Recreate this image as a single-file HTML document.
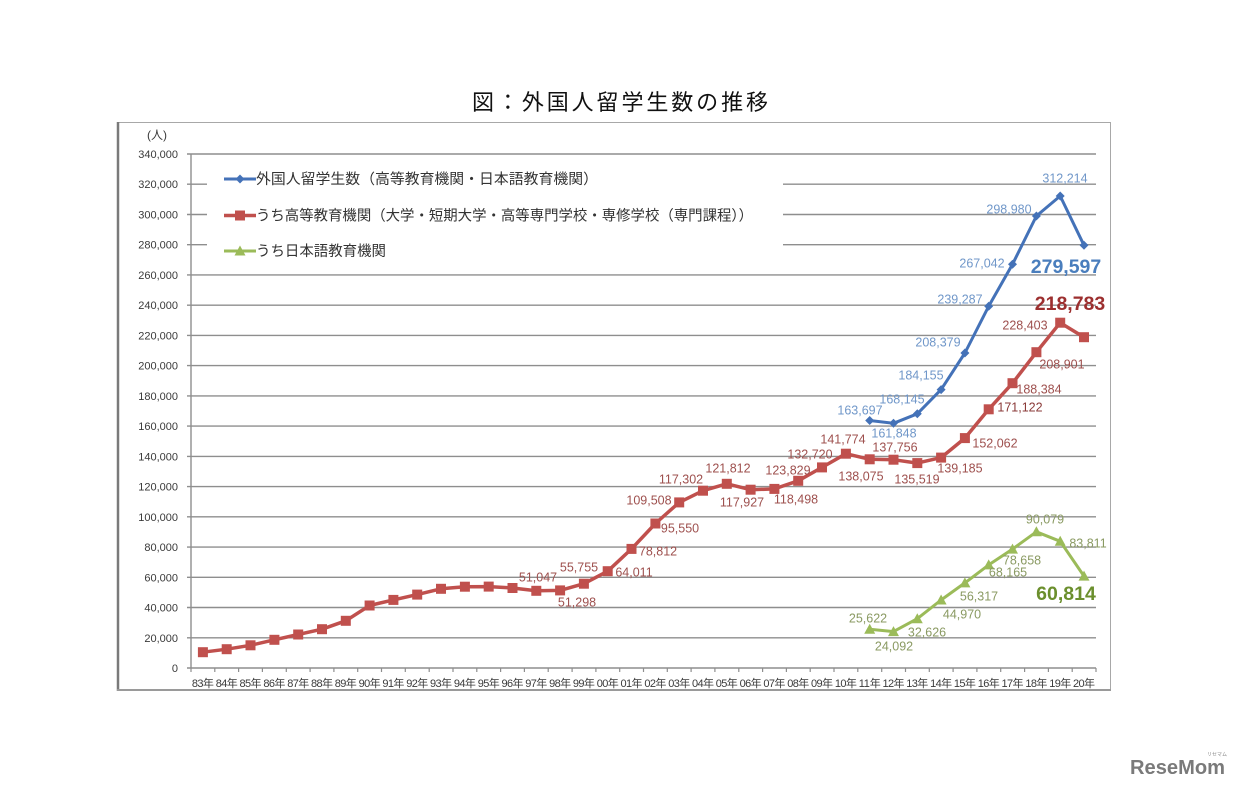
<!DOCTYPE html>
<html>
<head>
<meta charset="utf-8">
<style>
html,body{margin:0;padding:0;background:#fff;}
svg{display:block;}
text{font-family:"Liberation Sans","Noto Sans CJK JP",sans-serif;}
.yl{font-size:11px;fill:#3a3a3a;text-anchor:end;}
.xl{font-size:11px;fill:#3a3a3a;text-anchor:middle;}
.lg{font-size:14.5px;fill:#333;}
.bl{font-size:12.5px;fill:#7097c9;text-anchor:middle;}
.rl{font-size:12.5px;fill:#9e504e;text-anchor:middle;}
.gl{font-size:12.5px;fill:#8a9a62;text-anchor:middle;}
.big{font-size:19.5px;font-weight:bold;text-anchor:middle;}
</style>
</head>
<body>
<svg width="1240" height="788" viewBox="0 0 1240 788" xmlns="http://www.w3.org/2000/svg">
<defs>
  <marker id="mSq" markerUnits="userSpaceOnUse" markerWidth="12" markerHeight="12" refX="6" refY="6" viewBox="0 0 12 12">
    <rect x="1" y="1" width="10" height="10" fill="#c0504d"/>
  </marker>
  <marker id="mDi" markerUnits="userSpaceOnUse" markerWidth="12" markerHeight="12" refX="6" refY="6" viewBox="0 0 12 12">
    <path d="M6 1.5 L10.5 6 L6 10.5 L1.5 6 Z" fill="#4472b8"/>
  </marker>
  <marker id="mTr" markerUnits="userSpaceOnUse" markerWidth="14" markerHeight="14" refX="7" refY="7" viewBox="0 0 14 14">
    <path d="M7 1.5 L12.5 11.5 L1.5 11.5 Z" fill="#9bbb59"/>
  </marker>
</defs>

<!-- title -->
<text x="472" y="110" style="font-size:22px;fill:#111;" textLength="296" lengthAdjust="spacing">図：外国人留学生数の推移</text>

<!-- outer frame -->
<rect x="118.5" y="122.5" width="992" height="567" fill="#fff" stroke="#a8a8a8" stroke-width="1"/>
<line x1="118" y1="122" x2="118" y2="691" stroke="#7a7a7a" stroke-width="2.5"/>
<line x1="117" y1="690" x2="1111" y2="690" stroke="#9a9a9a" stroke-width="2"/>

<!-- gridlines -->
<g stroke="#8e8e8e" stroke-width="1.4">
  <line x1="187" y1="637.8" x2="1096" y2="637.8"/>
  <line x1="187" y1="607.5" x2="1096" y2="607.5"/>
  <line x1="187" y1="577.3" x2="1096" y2="577.3"/>
  <line x1="187" y1="547.1" x2="1096" y2="547.1"/>
  <line x1="187" y1="516.8" x2="1096" y2="516.8"/>
  <line x1="187" y1="486.6" x2="1096" y2="486.6"/>
  <line x1="187" y1="456.4" x2="1096" y2="456.4"/>
  <line x1="187" y1="426.1" x2="1096" y2="426.1"/>
  <line x1="187" y1="395.9" x2="1096" y2="395.9"/>
  <line x1="187" y1="365.6" x2="1096" y2="365.6"/>
  <line x1="187" y1="335.4" x2="1096" y2="335.4"/>
  <line x1="187" y1="305.2" x2="1096" y2="305.2"/>
  <line x1="187" y1="274.9" x2="1096" y2="274.9"/>
  <line x1="187" y1="244.7" x2="207" y2="244.7"/>
  <line x1="783" y1="244.7" x2="1096" y2="244.7"/>
  <line x1="187" y1="214.5" x2="207" y2="214.5"/>
  <line x1="783" y1="214.5" x2="1096" y2="214.5"/>
  <line x1="187" y1="184.2" x2="207" y2="184.2"/>
  <line x1="783" y1="184.2" x2="1096" y2="184.2"/>
  <line x1="187" y1="154" x2="1096" y2="154"/>
  <!-- axes -->
  <line x1="191" y1="154" x2="191" y2="668"/>
  <line x1="187" y1="668" x2="1096" y2="668"/>
</g>
<!-- x ticks -->
<g stroke="#8e8e8e" stroke-width="1.2">
<line x1="191.0" y1="668" x2="191.0" y2="672"/><line x1="214.8" y1="668" x2="214.8" y2="672"/><line x1="238.6" y1="668" x2="238.6" y2="672"/><line x1="262.4" y1="668" x2="262.4" y2="672"/><line x1="286.3" y1="668" x2="286.3" y2="672"/><line x1="310.1" y1="668" x2="310.1" y2="672"/><line x1="333.9" y1="668" x2="333.9" y2="672"/><line x1="357.7" y1="668" x2="357.7" y2="672"/><line x1="381.5" y1="668" x2="381.5" y2="672"/><line x1="405.3" y1="668" x2="405.3" y2="672"/><line x1="429.2" y1="668" x2="429.2" y2="672"/><line x1="453.0" y1="668" x2="453.0" y2="672"/><line x1="476.8" y1="668" x2="476.8" y2="672"/><line x1="500.6" y1="668" x2="500.6" y2="672"/><line x1="524.4" y1="668" x2="524.4" y2="672"/><line x1="548.2" y1="668" x2="548.2" y2="672"/><line x1="572.1" y1="668" x2="572.1" y2="672"/><line x1="595.9" y1="668" x2="595.9" y2="672"/><line x1="619.7" y1="668" x2="619.7" y2="672"/><line x1="643.5" y1="668" x2="643.5" y2="672"/><line x1="667.3" y1="668" x2="667.3" y2="672"/><line x1="691.1" y1="668" x2="691.1" y2="672"/><line x1="714.9" y1="668" x2="714.9" y2="672"/><line x1="738.8" y1="668" x2="738.8" y2="672"/><line x1="762.6" y1="668" x2="762.6" y2="672"/><line x1="786.4" y1="668" x2="786.4" y2="672"/><line x1="810.2" y1="668" x2="810.2" y2="672"/><line x1="834.0" y1="668" x2="834.0" y2="672"/><line x1="857.8" y1="668" x2="857.8" y2="672"/><line x1="881.7" y1="668" x2="881.7" y2="672"/><line x1="905.5" y1="668" x2="905.5" y2="672"/><line x1="929.3" y1="668" x2="929.3" y2="672"/><line x1="953.1" y1="668" x2="953.1" y2="672"/><line x1="976.9" y1="668" x2="976.9" y2="672"/><line x1="1000.7" y1="668" x2="1000.7" y2="672"/><line x1="1024.6" y1="668" x2="1024.6" y2="672"/><line x1="1048.4" y1="668" x2="1048.4" y2="672"/><line x1="1072.2" y1="668" x2="1072.2" y2="672"/><line x1="1096.0" y1="668" x2="1096.0" y2="672"/>
</g>

<!-- y labels -->
<text x="157" y="139" style="font-size:12px;fill:#3a3a3a;text-anchor:middle;">(人)</text>
<text class="yl" x="178" y="158">340,000</text>
<text class="yl" x="178" y="188.2">320,000</text>
<text class="yl" x="178" y="218.5">300,000</text>
<text class="yl" x="178" y="248.7">280,000</text>
<text class="yl" x="178" y="278.9">260,000</text>
<text class="yl" x="178" y="309.2">240,000</text>
<text class="yl" x="178" y="339.4">220,000</text>
<text class="yl" x="178" y="369.6">200,000</text>
<text class="yl" x="178" y="399.9">180,000</text>
<text class="yl" x="178" y="430.1">160,000</text>
<text class="yl" x="178" y="460.4">140,000</text>
<text class="yl" x="178" y="490.6">120,000</text>
<text class="yl" x="178" y="520.8">100,000</text>
<text class="yl" x="178" y="551.1">80,000</text>
<text class="yl" x="178" y="581.3">60,000</text>
<text class="yl" x="178" y="611.5">40,000</text>
<text class="yl" x="178" y="641.8">20,000</text>
<text class="yl" x="178" y="672">0</text>

<!-- x labels -->
<g>
<text class="xl" x="202.9" y="687" textLength="22">83年</text>
<text class="xl" x="226.7" y="687" textLength="22">84年</text>
<text class="xl" x="250.5" y="687" textLength="22">85年</text>
<text class="xl" x="274.4" y="687" textLength="22">86年</text>
<text class="xl" x="298.2" y="687" textLength="22">87年</text>
<text class="xl" x="322.0" y="687" textLength="22">88年</text>
<text class="xl" x="345.8" y="687" textLength="22">89年</text>
<text class="xl" x="369.6" y="687" textLength="22">90年</text>
<text class="xl" x="393.4" y="687" textLength="22">91年</text>
<text class="xl" x="417.2" y="687" textLength="22">92年</text>
<text class="xl" x="441.0" y="687" textLength="22">93年</text>
<text class="xl" x="464.9" y="687" textLength="22">94年</text>
<text class="xl" x="488.7" y="687" textLength="22">95年</text>
<text class="xl" x="512.5" y="687" textLength="22">96年</text>
<text class="xl" x="536.3" y="687" textLength="22">97年</text>
<text class="xl" x="560.1" y="687" textLength="22">98年</text>
<text class="xl" x="583.9" y="687" textLength="22">99年</text>
<text class="xl" x="607.7" y="687" textLength="22">00年</text>
<text class="xl" x="631.5" y="687" textLength="22">01年</text>
<text class="xl" x="655.4" y="687" textLength="22">02年</text>
<text class="xl" x="679.2" y="687" textLength="22">03年</text>
<text class="xl" x="703.0" y="687" textLength="22">04年</text>
<text class="xl" x="726.8" y="687" textLength="22">05年</text>
<text class="xl" x="750.6" y="687" textLength="22">06年</text>
<text class="xl" x="774.4" y="687" textLength="22">07年</text>
<text class="xl" x="798.2" y="687" textLength="22">08年</text>
<text class="xl" x="822.0" y="687" textLength="22">09年</text>
<text class="xl" x="845.9" y="687" textLength="22">10年</text>
<text class="xl" x="869.7" y="687" textLength="22">11年</text>
<text class="xl" x="893.5" y="687" textLength="22">12年</text>
<text class="xl" x="917.3" y="687" textLength="22">13年</text>
<text class="xl" x="941.1" y="687" textLength="22">14年</text>
<text class="xl" x="964.9" y="687" textLength="22">15年</text>
<text class="xl" x="988.7" y="687" textLength="22">16年</text>
<text class="xl" x="1012.5" y="687" textLength="22">17年</text>
<text class="xl" x="1036.4" y="687" textLength="22">18年</text>
<text class="xl" x="1060.2" y="687" textLength="22">19年</text>
<text class="xl" x="1084.0" y="687" textLength="22">20年</text>
</g>

<!-- legend -->
<polyline points="224,179 256,179" stroke="#4472b8" stroke-width="3" fill="none"/>
<path d="M240 174.5 L244.5 179 L240 183.5 L235.5 179 Z" fill="#4472b8"/>
<text class="lg" x="256" y="184" textLength="342" lengthAdjust="spacingAndGlyphs">外国人留学生数（高等教育機関・日本語教育機関）</text>
<polyline points="224,215.5 256,215.5" stroke="#c0504d" stroke-width="3.5" fill="none"/>
<rect x="235" y="210.5" width="10" height="10" fill="#c0504d"/>
<text class="lg" x="256" y="220.5" textLength="497" lengthAdjust="spacingAndGlyphs">うち高等教育機関（大学・短期大学・高等専門学校・専修学校（専門課程））</text>
<polyline points="224,251 256,251" stroke="#9bbb59" stroke-width="3" fill="none"/>
<path d="M240 245.5 L245.5 255.5 L234.5 255.5 Z" fill="#9bbb59"/>
<text class="lg" x="256" y="256" textLength="130" lengthAdjust="spacingAndGlyphs">うち日本語教育機関</text>

<!-- series -->
<polyline fill="none" stroke="#c0504d" stroke-width="3.5" stroke-linejoin="round"
 marker-start="url(#mSq)" marker-mid="url(#mSq)" marker-end="url(#mSq)"
 points="202.9,652.2 226.7,649.2 250.5,645.3 274.4,639.8 298.2,634.5 322.0,629.2 345.8,620.8 369.6,605.5 393.4,599.9 417.2,594.6 441.0,588.8 464.9,586.7 488.7,586.6 512.5,588.0 536.3,590.8 560.1,590.4 583.9,583.7 607.7,571.2 631.5,548.9 655.4,523.5 679.2,502.4 703.0,490.7 726.8,483.8 750.6,489.7 774.4,488.9 798.2,480.8 822.0,467.4 845.9,453.7 869.7,459.3 893.5,459.7 917.3,463.1 941.1,457.6 964.9,438.1 988.7,409.3 1012.5,383.2 1036.4,352.2 1060.2,322.7 1084.0,337.2"/>
<polyline fill="none" stroke="#4472b8" stroke-width="3" stroke-linejoin="round"
 marker-start="url(#mDi)" marker-mid="url(#mDi)" marker-end="url(#mDi)"
 points="869.7,420.5 893.5,423.3 917.3,413.8 941.1,389.6 964.9,353.0 988.7,306.2 1012.5,264.3 1036.4,216.0 1060.2,196.0 1084.0,245.3"/>
<polyline fill="none" stroke="#9bbb59" stroke-width="3" stroke-linejoin="round"
 marker-start="url(#mTr)" marker-mid="url(#mTr)" marker-end="url(#mTr)"
 points="869.7,629.3 893.5,631.6 917.3,618.7 941.1,600.0 964.9,582.9 988.7,564.9 1012.5,549.1 1036.4,531.8 1060.2,541.3 1084.0,576.1"/>

<!-- blue labels -->
<text class="bl" x="860" y="414.5">163,697</text>
<text class="bl" x="894" y="437.5">161,848</text>
<text class="bl" x="902" y="403.5">168,145</text>
<text class="bl" x="921" y="379.5">184,155</text>
<text class="bl" x="938" y="346.5">208,379</text>
<text class="bl" x="960" y="303.5">239,287</text>
<text class="bl" x="982" y="267.5">267,042</text>
<text class="bl" x="1009" y="213.5">298,980</text>
<text class="bl" x="1065" y="182.5">312,214</text>
<text class="big" x="1066" y="273" style="fill:#4a7ebd;">279,597</text>

<!-- red labels -->
<text class="rl" x="538" y="581.5">51,047</text>
<text class="rl" x="577" y="606.5">51,298</text>
<text class="rl" x="579" y="571.5">55,755</text>
<text class="rl" x="634" y="576.5">64,011</text>
<text class="rl" x="658" y="555.5">78,812</text>
<text class="rl" x="680" y="532.5">95,550</text>
<text class="rl" x="649" y="504.5">109,508</text>
<text class="rl" x="681" y="483.5">117,302</text>
<text class="rl" x="728" y="472.5">121,812</text>
<text class="rl" x="742" y="506.5">117,927</text>
<text class="rl" x="796" y="503.5">118,498</text>
<text class="rl" x="788" y="474.5">123,829</text>
<text class="rl" x="810" y="458.5">132,720</text>
<text class="rl" x="843" y="443.5">141,774</text>
<text class="rl" x="861" y="480.5">138,075</text>
<text class="rl" x="895" y="451.5">137,756</text>
<text class="rl" x="917" y="483.5">135,519</text>
<text class="rl" x="960" y="472.5">139,185</text>
<text class="rl" x="995" y="447.5">152,062</text>
<text class="rl" x="1020" y="411.5" style="fill:#8a3a38;">171,122</text>
<text class="rl" x="1039" y="393.5">188,384</text>
<text class="rl" x="1062" y="368.5">208,901</text>
<text class="rl" x="1025" y="329.5">228,403</text>
<text class="big" x="1070" y="310" style="fill:#9c2f2f;">218,783</text>

<!-- green labels -->
<text class="gl" x="868" y="622.5">25,622</text>
<text class="gl" x="894" y="650.5">24,092</text>
<text class="gl" x="927" y="636.5">32,626</text>
<text class="gl" x="962" y="618.5">44,970</text>
<text class="gl" x="979" y="600.5">56,317</text>
<text class="gl" x="1008" y="576.5">68,165</text>
<text class="gl" x="1022" y="564.5">78,658</text>
<text class="gl" x="1045" y="523.5">90,079</text>
<text class="gl" x="1088" y="547.5">83,811</text>
<text class="big" x="1066" y="600" style="fill:#6b8f2d;">60,814</text>

<!-- logo -->
<text x="1130" y="774" style="font-size:20px;font-weight:bold;fill:#7a7a7a;" textLength="95" lengthAdjust="spacingAndGlyphs">ReseMom</text>
<text x="1207" y="756" style="font-size:5px;fill:#888;">リセマム</text>
</svg>
</body>
</html>
